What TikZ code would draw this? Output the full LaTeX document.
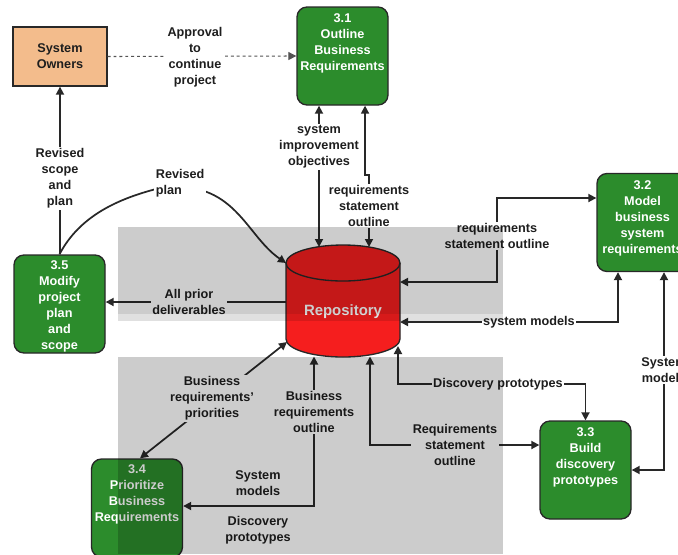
\documentclass[tikz,border=0pt]{standalone}
\usepackage{fontspec}
\setmainfont{Liberation Sans}
\usetikzlibrary{arrows.meta}
\definecolor{procgreen}{RGB}{44,140,44}
\definecolor{peach}{RGB}{243,188,140}
\definecolor{repored}{RGB}{245,30,30}
\definecolor{linecol}{RGB}{40,40,40}
\definecolor{labelcol}{RGB}{30,30,30}
\definecolor{shadegray}{RGB}{204,204,204}
\definecolor{bandgray}{RGB}{224,224,224}
\begin{document}
\begin{tikzpicture}[x=0.75pt,y=-0.75pt,
  every node/.style={font=\bfseries\fontsize{9.5}{12}\selectfont},
  procbox/.style={draw=linecol,line width=1pt,fill=procgreen,rounded corners=7.5pt,
    minimum width=68.25pt,minimum height=73.5pt,inner sep=0pt},
  proctext/.style={text=white,align=center,anchor=north,inner sep=0pt},
  flow/.style={draw=linecol,line width=1.3pt},
  arrboth/.style={flow,{Triangle[length=6pt,width=6pt]}-{Triangle[length=6pt,width=6pt]}},
  arrend/.style={flow,-{Triangle[length=6pt,width=6pt]}},
  lbl/.style={fill=white,text=labelcol,align=center,inner sep=1.2pt}]
\useasboundingbox (0,0) rectangle (678,554);
\clip (0,0) rectangle (678,554);
\fill[white] (0,0) rectangle (678,554);

% process boxes
\node[procbox] (p31) at (342.5,56) {};
\node[proctext] (t31) at (342.5,13.5) {3.1\\Outline\\Business\\Requirements};
\node[procbox] (p32) at (642.5,222.5) {};
\node[proctext] (t32) at (642.5,180) {3.2\\Model\\business\\system\\requirements};
\node[procbox] (p35) at (59.5,304) {};
\node[proctext] (t35) at (59.5,260) {3.5\\Modify\\project\\plan\\and\\scope};
\node[procbox] (p34) at (137,508) {};
\node[proctext] (t34) at (137,464) {3.4\\Prioritize\\Business\\Requirements};
\node[procbox] (p33) at (585.5,470) {};
\node[proctext] (t33) at (585.5,427) {3.3\\Build\\discovery\\prototypes};
\node[draw=linecol,line width=1pt,fill=peach,minimum width=70.5pt,minimum height=44.25pt,
  text=labelcol,align=center] (so) at (60,56.5) {System\\Owners};

% repository
\node[minimum width=85.5pt,minimum height=84pt,inner sep=0pt] (repo) at (343,301) {};
\filldraw[fill=repored,draw=linecol,line width=1pt]
  (286,263) -- (286,339) arc (180:360:42.75pt and 13.5pt) -- (400,263)
  arc (0:180:42.75pt and 13.5pt) -- cycle;
\draw[linecol,line width=1pt] (286,263) arc (180:360:42.75pt and 13.5pt);
\node[text=white,font=\bfseries\fontsize{11.2}{13}\selectfont] (repotxt) at (343,312) {Repository};

% coordinates on the repository border and corners
\coordinate (r1) at (319,247);
\coordinate (r2) at (369,247);
\coordinate (r3) at (400,282);
\coordinate (r4) at (400,322);
\coordinate (r5) at (398,346);
\coordinate (r6) at (370,356.5);
\coordinate (r7) at (314,356.5);
\coordinate (r8) at (287,342);
\coordinate (r9) at (286,302);
\coordinate (r10) at (286,263);
\coordinate (k5) at (369,175);
\coordinate (k6) at (497,198);
\coordinate (k7) at (618,322);
\coordinate (k8) at (664,470);
\coordinate (k9a) at (398,384);
\coordinate (k9b) at (585.5,384);
\coordinate (k10) at (370,445);
\coordinate (k11) at (314,506);

% connectors
\draw[draw=linecol!80,line width=0.8pt,dash pattern=on 2.2pt off 2.2pt,-{Triangle[length=6pt,width=6pt]}]
  (so.east) -- (p31.west);
\draw[arrend] (p35.north -| so.south) -- (so.south);
\draw[arrend] (p35.north) .. controls (80,215) and (120,198) .. (160,188)
  .. controls (235,178) and (245,235) .. (r10);
\draw[arrboth] (p31.south -| r1) -- (r1);
\draw[arrboth] ([xshift=16.9pt]p31.south) |- (k5) -- (r2);
\draw[arrboth] (r3) -| (k6) -- (p32.west |- k6);
\draw[arrboth] (p32.south -| k7) -- (k7) -- (r4);
\draw[arrboth] (p32.south -| k8) -- (k8) -- (p33.east |- k8);
\draw[arrboth] (r5) -- (k9a) -- (k9b) -- (p33.north);
\draw[arrboth] (r6) -- (k10) -- (p33.west |- k10);
\draw[arrboth] (r7) -- (k11) -- (p34.east |- k11);
\draw[arrboth] (r8) -- ([xshift=2.25pt]p34.north);
\draw[arrend] (r9) -- (p35.east |- r9);

% labels
\node[lbl] (lapp) at (195,57) {Approval\\to\\continue\\project};
\node[lbl] (lrss) at (60,178) {Revised\\scope\\and\\plan};
\node[lbl,align=left,anchor=west] (lrp) at (154,183) {Revised\\plan};
\node[lbl] (lsio) at (319,147) {system\\improvement\\objectives};
\node[lbl] (lrso1) at (369,206) {requirements\\statement\\outline};
\node[lbl] (lrso2) at (497,236) {requirements\\statement outline};
\node[lbl] (lsm1) at (529,322) {system models};
\node[lbl] (lsm2) at (664,370) {System\\models};
\node[lbl] (ldp1) at (498,384) {Discovery prototypes};
\node[lbl] (lrso3) at (455,445) {Requirements\\statement\\outline};
\node[lbl] (lbro) at (314,412) {Business\\requirements\\outline};
\node[lbl] (lsmx) at (258,483.5) {System\\models};
\node[lbl] (ldpx) at (258,530.5) {Discovery\\prototypes};
\node[lbl] (lbrp) at (212,398) {Business\\requirements'\\priorities};
\node[lbl] (lapd) at (189,302) {All prior\\deliverables};

% gray overlay bands
\begin{scope}[blend mode=multiply]
  \fill[shadegray] (118,227) rectangle (503,314);
  \fill[bandgray] (118,314) rectangle (503,321);
  \fill[shadegray] (118,357) rectangle (503,554);
\end{scope}
\end{tikzpicture}
\end{document}
